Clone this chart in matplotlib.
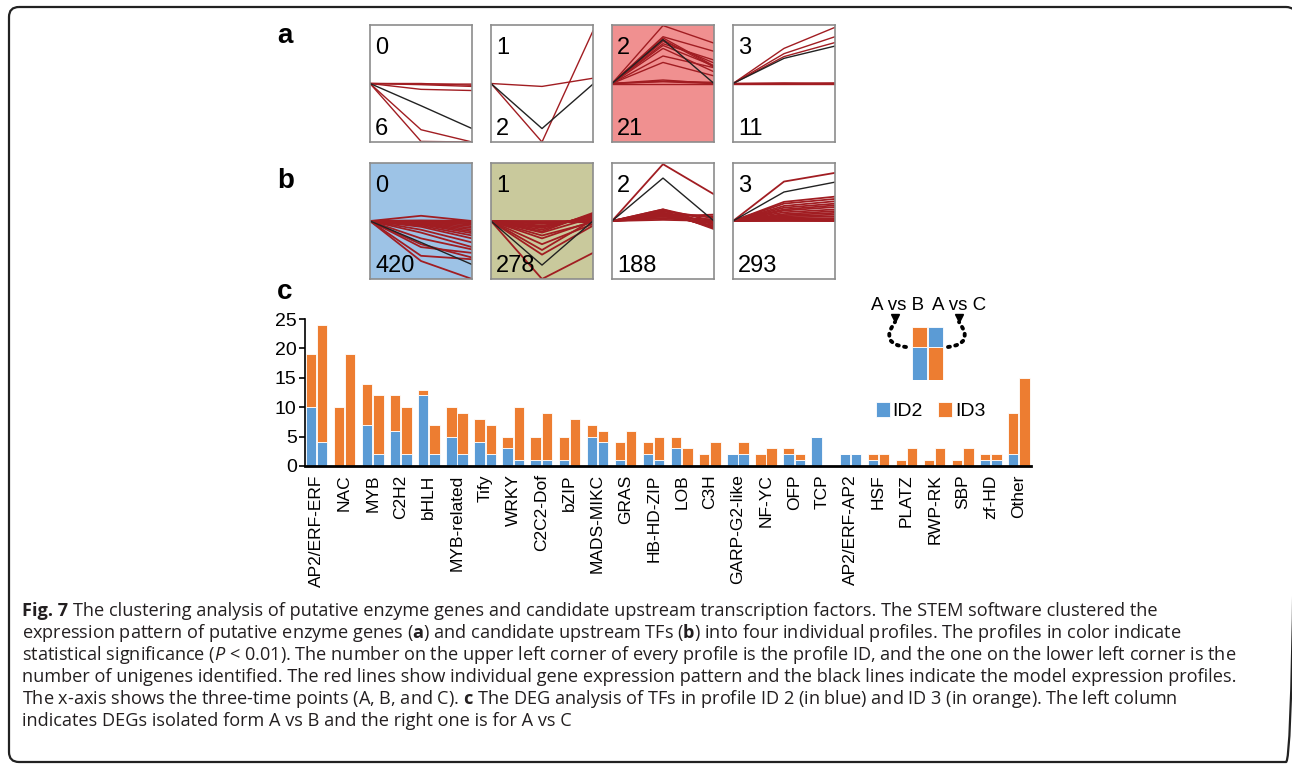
import numpy as np
import matplotlib
matplotlib.use('Agg')
import matplotlib.pyplot as plt
from matplotlib.patches import FancyBboxPatch

W, H = 1292, 768

# ---- panel a / b : STEM profiles (values at time points A, B, C) ----
a_ids = ['0', '1', '2', '3']
a_counts = ['6', '2', '21', '11']
a_bg = ['white', 'white', '#F09090', 'white']
a_red = [
    [[0, 0, -0.03], [0, -0.02, -0.05], [0, -0.1, -0.12], [0, -0.79, -1.0],
     [0, -0.99, -1.0], [0, -0.01, -0.01]],
    [[0, -0.05, 0.09], [0, -1.0, 0.9]],
    [[0, 0.99, 0.69], [0, 0.8, 0.55], [0, 0.78, 0.3], [0, 0.75, 0.28],
     [0, 0.72, 0.35], [0, 0.68, 0.4], [0, 0.65, 0.3], [0, 0.6, 0.2],
     [0, 0.47, 0.27], [0, 0.36, 0.13], [0, 0.06, 0.0], [0, 0.03, 0.0],
     [0, 0.0, 0.0], [0, 0.04, 0.02]],
    [[0, 0.6, 0.96], [0, 0.51, 0.8], [0, 0.46, 0.7], [0, 0.0, 0.0],
     [0, 0.01, 0.0], [0, 0.0, 0.01]],
]
a_model = [[0, -0.38, -0.77], [0, -0.77, -0.01], [0, 0.75, 0.0], [0, 0.43, 0.64]]

b_ids = ['0', '1', '2', '3']
b_counts = ['420', '278', '188', '293']
b_bg = ['#9DC3E6', '#C9C99C', 'white', 'white']
b_red = [
    [[0, 0.0, 0.0], [0, 0.0, -0.02], [0, -0.01, -0.04], [0, -0.02, -0.06],
     [0, -0.02, -0.09], [0, -0.03, -0.12], [0, -0.04, -0.15], [0, -0.05, -0.18],
     [0, -0.06, -0.21], [0, -0.08, -0.25], [0, -0.1, -0.3], [0, -0.15, -0.37],
     [0, -0.2, -0.45], [0, -0.3, -0.49], [0, -0.45, -0.55], [0, -0.4, -0.63],
     [0, -0.6, -0.66], [0, -0.69, -1.0], [0, 0.09, 0.0], [0, 0.01, 0.0]],
    [[0, 0.0, 0.0], [0, -0.03, 0.0], [0, -0.05, 0.03], [0, -0.08, 0.05],
     [0, -0.1, 0.08], [0, -0.12, 0.1], [0, -0.15, 0.12], [0, -0.18, 0.14],
     [0, -0.2, 0.06], [0, -0.25, -0.02], [0, -0.3, 0.0], [0, -0.4, -0.05],
     [0, -0.5, 0.02], [0, -0.58, -0.08], [0, -1.0, -0.55], [0, -0.02, -0.02]],
    [[0, 0.98, 0.46], [0, 0.02, 0.0], [0, 0.05, -0.02], [0, 0.08, -0.05],
     [0, 0.1, -0.08], [0, 0.12, -0.1], [0, 0.15, -0.12], [0, 0.18, -0.14],
     [0, 0.2, 0.0], [0, 0.17, 0.05], [0, 0.12, 0.08], [0, 0.08, 0.11],
     [0, 0.05, 0.03], [0, 0.14, -0.03], [0, 0.2, -0.06]],
    [[0, 0.68, 0.83], [0, 0.02, 0.02], [0, 0.04, 0.05], [0, 0.06, 0.08],
     [0, 0.08, 0.11], [0, 0.1, 0.14], [0, 0.12, 0.17], [0, 0.15, 0.2],
     [0, 0.18, 0.24], [0, 0.2, 0.27], [0, 0.23, 0.3], [0, 0.26, 0.34],
     [0, 0.3, 0.38], [0, 0.33, 0.42], [0, 0.0, 0.0], [0, 0.01, 0.0]],
]
b_model = [[0, -0.37, -0.75], [0, -0.76, 0.0], [0, 0.74, 0.0], [0, 0.5, 0.67]]

# ---- panel c : TF families ----
families = ['AP2/ERF-ERF', 'NAC', 'MYB', 'C2H2', 'bHLH', 'MYB-related', 'Tify',
            'WRKY', 'C2C2-Dof', 'bZIP', 'MADS-MIKC', 'GRAS', 'HB-HD-ZIP', 'LOB',
            'C3H', 'GARP-G2-like', 'NF-YC', 'OFP', 'TCP', 'AP2/ERF-AP2', 'HSF',
            'PLATZ', 'RWP-RK', 'SBP', 'zf-HD', 'Other']
ab_id2 = [10, 0, 7, 6, 12, 5, 4, 3, 1, 1, 5, 1, 2, 3, 0, 2, 0, 2, 5, 2, 1, 0, 0, 0, 1, 2]
ab_id3 = [9, 10, 7, 6, 1, 5, 4, 2, 4, 4, 2, 3, 2, 2, 2, 0, 2, 1, 0, 0, 1, 1, 1, 1, 1, 7]
ac_id2 = [4, 0, 2, 2, 2, 2, 2, 1, 1, 0, 4, 0, 1, 0, 0, 2, 0, 1, 0, 2, 0, 0, 0, 0, 1, 0]
ac_id3 = [20, 19, 10, 8, 5, 7, 5, 9, 8, 8, 2, 6, 4, 3, 4, 2, 3, 1, 0, 0, 2, 3, 3, 3, 1, 15]

# schematic key: lower / upper segment of the two example columns
key_lower = [1.6, 1.6]
key_upper = [1.0, 1.0]

blue = '#5B9BD5'
orange = '#ED7D31'
red = '#A11D22'

caption_head = "Fig. 7"
caption = [
    r"The clustering analysis of putative enzyme genes and candidate upstream transcription factors. The STEM software clustered the",
    r"expression pattern of putative enzyme genes ($\mathbf{a}$) and candidate upstream TFs ($\mathbf{b}$) into four individual profiles. The profiles in color indicate",
    r"statistical significance ($\mathit{P}$ < 0.01). The number on the upper left corner of every profile is the profile ID, and the one on the lower left corner is the",
    r"number of unigenes identified. The red lines show individual gene expression pattern and the black lines indicate the model expression profiles.",
    r"The x-axis shows the three-time points (A, B, and C). $\mathbf{c}$ The DEG analysis of TFs in profile ID 2 (in blue) and ID 3 (in orange). The left column",
    r"indicates DEGs isolated form A vs B and the right one is for A vs C",
]

plt.rcParams['font.family'] = 'Liberation Sans'
plt.rcParams['mathtext.fontset'] = 'custom'
plt.rcParams['mathtext.rm'] = 'Open Sans'
plt.rcParams['mathtext.bf'] = 'Open Sans:bold'
plt.rcParams['mathtext.it'] = 'Open Sans:italic'

fig = plt.figure(figsize=(W / 100, H / 100), dpi=100)


def px_axes(left, top, width, height, **kw):
    return fig.add_axes([left / W, 1 - (top + height) / H, width / W, height / H], **kw)


# background with rounded frame and caption, in pixel units
bg = px_axes(0, 0, W, H, zorder=-5)
bg.set_xlim(0, W)
bg.set_ylim(H, 0)
bg.axis('off')
bg.add_patch(FancyBboxPatch((9, 7), 1287, 755, boxstyle='round,pad=0,rounding_size=10',
                            fill=False, ec='#222222', lw=1.6, clip_on=True))

cap_fs = 13.1
head = bg.text(22, 611, caption_head, fontsize=cap_fs, family='Open Sans',
               fontweight='bold', color='#231F20', va='center', ha='left')
r = fig.canvas.get_renderer()
head_w = head.get_window_extent(renderer=r).width
for k, line in enumerate(caption):
    x0 = 22 + head_w + 5 if k == 0 else 22
    bg.text(x0, 611 + 22 * k, line, fontsize=cap_fs, family='Open Sans', color='#231F20',
            va='center', ha='left')

bg.text(277, 36, 'a', fontsize=20, fontweight='bold', va='center')
bg.text(277, 181, 'b', fontsize=20, fontweight='bold', va='center')
bg.text(277, 292, 'c', fontsize=20, fontweight='bold', va='center')

lefts = [370, 491, 612, 733]


def profile(ax, bgcol, reds, model, pid, cnt, lw):
    ax.set_facecolor(bgcol)
    tp = [0, 1, 2]
    for rr in reds:
        ax.plot(tp, rr, color=red, lw=lw)
    ax.plot(tp, model, color='#222222', lw=1.0)
    ax.set_xlim(0, 2)
    ax.set_ylim(-1, 1)
    ax.set_xticks([])
    ax.set_yticks([])
    for s in ax.spines.values():
        s.set_color('#8C8C8C')
        s.set_linewidth(1.2)
    ax.text(0.05, 0.8, pid, transform=ax.transAxes, fontsize=17, va='center', ha='left')
    ax.text(0.05, 0.11, cnt, transform=ax.transAxes, fontsize=17, va='center', ha='left')


for i in range(4):
    ax = px_axes(lefts[i], 25, 102, 117)
    profile(ax, a_bg[i], a_red[i], a_model[i], a_ids[i], a_counts[i], 1.0)
    ax = px_axes(lefts[i], 163, 102, 116)
    profile(ax, b_bg[i], b_red[i], b_model[i], b_ids[i], b_counts[i], 1.3)

# ---- bar chart c ----
ax = px_axes(305, 319, 726, 147)
x = np.arange(len(families))
bw = 0.37
ab_id2 = np.array(ab_id2)
ac_id2 = np.array(ac_id2)
h2 = ax.bar(x - 0.2, ab_id2, bw, color=blue, ec='white', lw=0.6, label='ID2')
h3 = ax.bar(x - 0.2, ab_id3, bw, bottom=ab_id2, color=orange, ec='white', lw=0.6, label='ID3')
ax.bar(x + 0.2, ac_id2, bw, color=blue, ec='white', lw=0.6)
ax.bar(x + 0.2, ac_id3, bw, bottom=ac_id2, color=orange, ec='white', lw=0.6)
ax.set_xlim(-0.41, 25.43)
ax.set_ylim(0, 25)
ax.set_yticks([0, 5, 10, 15, 20, 25])
ax.set_xticks(x)
ax.set_xticklabels(families, rotation=90, fontsize=12.5)
ax.tick_params(axis='y', labelsize=14, length=4, width=1.2, pad=2)
ax.tick_params(axis='x', length=0, pad=6)
ax.spines['top'].set_visible(False)
ax.spines['right'].set_visible(False)
ax.spines['left'].set_linewidth(1.2)
ax.spines['bottom'].set_linewidth(2.0)
ax.patch.set_alpha(0)

fig.legend(handles=[h2, h3], labels=['ID2', 'ID3'], loc='center left',
           bbox_to_anchor=(876 / W, 1 - 411 / H), ncol=2, frameon=False, fontsize=14,
           handlelength=0.7, handleheight=0.8, handletextpad=0.15, columnspacing=0.8,
           borderpad=0, borderaxespad=0)

# schematic key
key = px_axes(911, 327, 33, 53)
key.bar([0], [key_lower[0]], 0.92, color=blue, ec='white', lw=0.6)
key.bar([0], [key_upper[0]], 0.92, bottom=[key_lower[0]], color=orange, ec='white', lw=0.6)
key.bar([1], [key_lower[1]], 0.92, color=orange, ec='white', lw=0.6)
key.bar([1], [key_upper[1]], 0.92, bottom=[key_lower[1]], color=blue, ec='white', lw=0.6)
key.set_xlim(-0.5, 1.5)
key.set_ylim(0, 2.6)
key.axis('off')

bg.text(898, 305, 'A vs B', fontsize=13.5, ha='center', va='center')
bg.text(959, 305, 'A vs C', fontsize=13.5, ha='center', va='center')
dots = dict(arrowstyle='-', lw=2.8, color='black', linestyle=(0, (0.5, 1.4)),
            capstyle='round', shrinkA=0, shrinkB=0)
bg.annotate('', xy=(895, 322), xytext=(906, 347),
            arrowprops=dict(connectionstyle='arc3,rad=-0.85', **dots))
bg.annotate('', xy=(959, 322), xytext=(948, 347),
            arrowprops=dict(connectionstyle='arc3,rad=0.85', **dots))
bg.plot([895, 959], [318, 318], ls='none', marker='v', ms=6, color='black')

fig.savefig('out.png', dpi=100)
